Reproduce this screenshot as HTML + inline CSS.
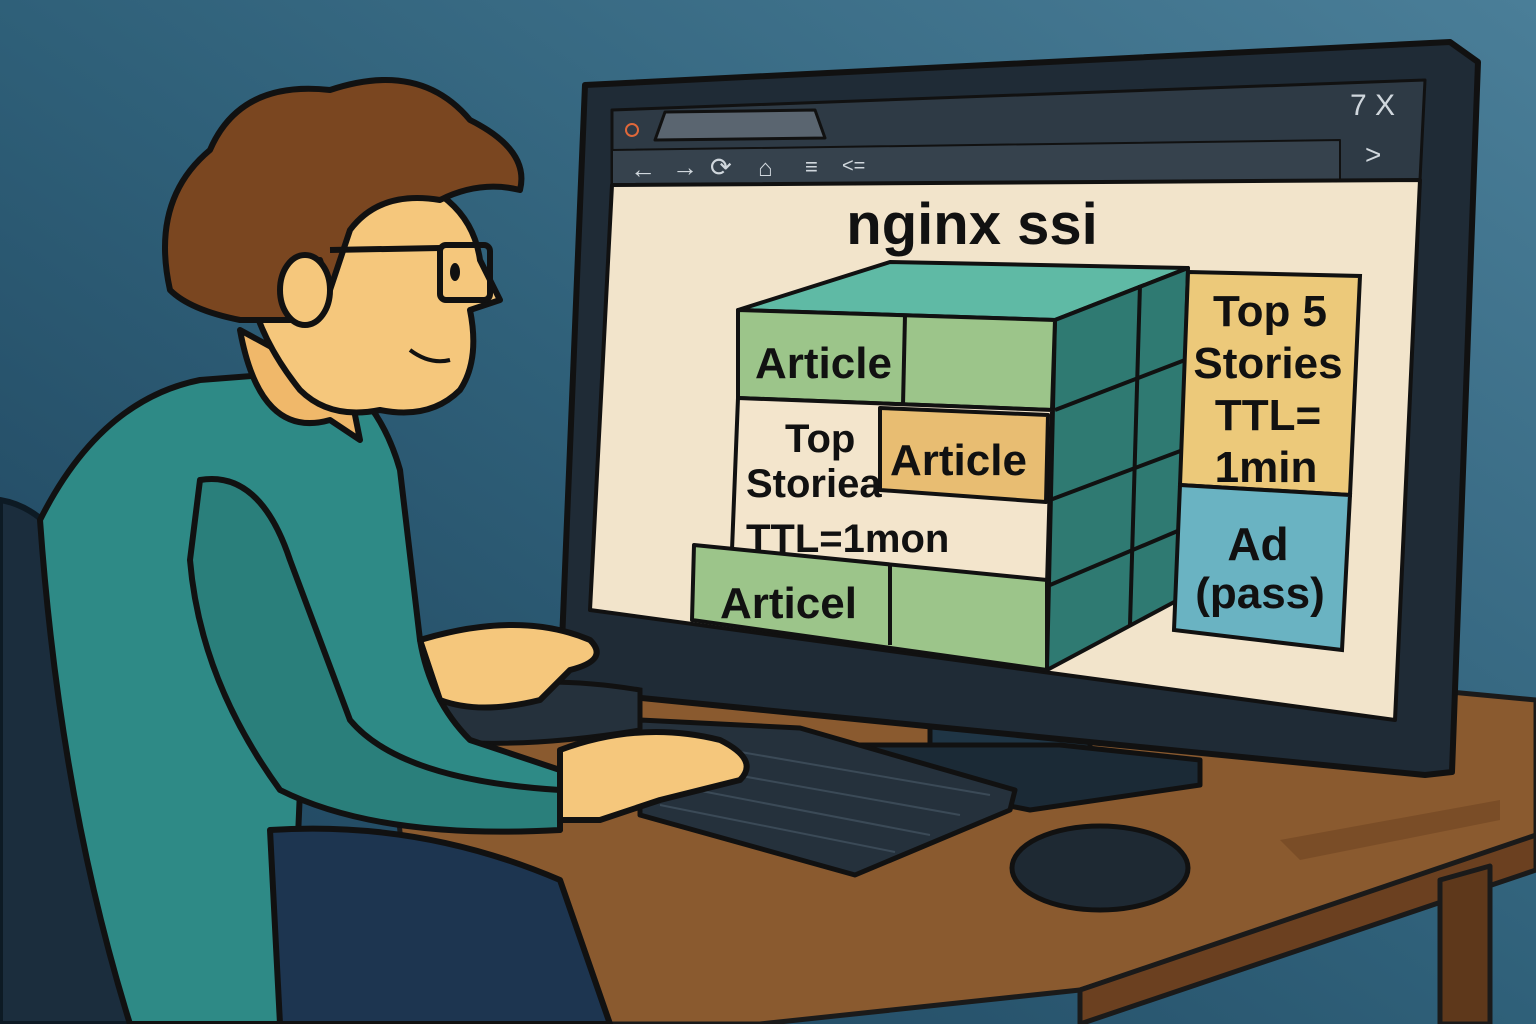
<!DOCTYPE html>
<html><head><meta charset="utf-8"><style>
html,body{margin:0;padding:0;width:1536px;height:1024px;overflow:hidden;background:#2d5b75}
svg{display:block}
text{font-family:"Liberation Sans",sans-serif;font-weight:bold;fill:#111}
</style></head><body>
<svg width="1536" height="1024" viewBox="0 0 1536 1024">
<defs>
<linearGradient id="bg" x1="1" y1="0" x2="0" y2="1">
<stop offset="0" stop-color="#4a7e98"/><stop offset="0.5" stop-color="#2f6079"/><stop offset="1" stop-color="#1c3f58"/>
</linearGradient>
</defs>
<rect width="1536" height="1024" fill="url(#bg)"/>

<g stroke="#1a1a1a" stroke-width="5" stroke-linejoin="round">
<polygon points="380,640 1000,650 1536,700 1536,840 1080,990 760,1024 420,1024" fill="#8a5a2f"/>
<polygon points="1080,990 1536,835 1536,870 1080,1024" fill="#6b4020"/>
<polygon points="1440,880 1490,866 1490,1024 1440,1024" fill="#5e381b"/>
<polygon points="1280,840 1500,800 1500,820 1300,860" fill="#7a4d27" stroke="none"/>
</g>

<g stroke="#111" stroke-width="5" stroke-linejoin="round">
<polygon points="930,690 1090,700 1090,755 930,750" fill="#1f3545"/>
<polygon points="830,745 1060,745 1200,760 1200,785 1030,810 830,770" fill="#1b2a36"/>
</g>

<g stroke="#111" stroke-width="6" stroke-linejoin="round">
<polygon points="585,85 1450,42 1478,62 1452,772 1425,775 560,690" fill="#1f2b36"/>
<polygon points="612,110 1425,80 1420,180 612,185" fill="#2e3a45" stroke-width="3"/>
<polygon points="655,140 665,112 815,110 825,138" fill="#5a6570" stroke-width="3"/>
<polygon points="612,150 1340,140 1340,180 612,185" fill="#36424d" stroke-width="2"/>
<polygon points="612,185 1420,180 1395,720 590,610" fill="#f2e4cb" stroke-width="4"/>
</g>
<circle cx="632" cy="130" r="6" fill="none" stroke="#e0683a" stroke-width="2"/>
<g>
<text x="630" y="178" font-size="26" style="fill:#d0d7dd;font-weight:normal">←</text>
<text x="672" y="176" font-size="26" style="fill:#d0d7dd;font-weight:normal">→</text>
<text x="710" y="176" font-size="26" style="fill:#d0d7dd;font-weight:normal">⟳</text>
<text x="758" y="176" font-size="24" style="fill:#d0d7dd;font-weight:normal">⌂</text>
<text x="805" y="174" font-size="22" style="fill:#d0d7dd;font-weight:normal">≡</text>
<text x="842" y="172" font-size="20" style="fill:#d0d7dd;font-weight:normal">&lt;=</text>
<text x="1365" y="164" font-size="28" style="fill:#d0d7dd;font-weight:normal">&gt;</text>
<text x="1350" y="115" font-size="30" style="fill:#d0d7dd;font-weight:normal">7 X</text>
</g>

<text x="972" y="244" font-size="58" text-anchor="middle">nginx ssi</text>
<g stroke="#111" stroke-width="4" stroke-linejoin="round">
<polygon points="738,310 890,262 1188,268 1055,320" fill="#5fbaa5"/>
<polygon points="1055,320 1188,268 1178,600 1047,670" fill="#2f7a72"/>
<polyline points="1055,410 1185,360" fill="none"/><polyline points="1050,500 1183,450" fill="none"/><polyline points="1050,585 1180,530" fill="none"/>
<polyline points="1140,285 1130,625" fill="none"/>
<polygon points="738,310 1055,320 1052,410 738,398" fill="#9cc58a"/>
<line x1="905" y1="315" x2="903" y2="405"/>
<polygon points="738,398 1052,410 1047,585 732,550" fill="#f3e5cc"/>
<polygon points="880,408 1048,415 1046,502 880,490" fill="#e8bd72"/>
<polygon points="694,545 1047,580 1047,670 692,620" fill="#9cc58a"/>
<line x1="890" y1="565" x2="890" y2="645"/>
</g>
<text x="755" y="378" font-size="44">Article</text>
<text x="785" y="452" font-size="40">Top</text>
<text x="746" y="497" font-size="40">Storiea</text>
<text x="746" y="552" font-size="40">TTL=1mon</text>
<text x="890" y="475" font-size="44">Article</text>
<text x="720" y="618" font-size="44">Articel</text>

<g stroke="#111" stroke-width="4">
<polygon points="1188,272 1360,276 1350,495 1180,485" fill="#ecc97a"/>
<polygon points="1180,485 1350,495 1342,650 1174,630" fill="#6ab3c2"/>
</g>
<text x="1270" y="326" font-size="44" text-anchor="middle">Top 5</text>
<text x="1268" y="378" font-size="44" text-anchor="middle">Stories</text>
<text x="1268" y="430" font-size="44" text-anchor="middle">TTL=</text>
<text x="1266" y="482" font-size="44" text-anchor="middle">1min</text>
<text x="1258" y="560" font-size="46" text-anchor="middle">Ad</text>
<text x="1260" y="608" font-size="44" text-anchor="middle">(pass)</text>

<g stroke="#111" stroke-width="5" stroke-linejoin="round">
<polygon points="640,720 800,728 1015,790 1010,810 855,875 640,815" fill="#25313c"/>
<g stroke="#3b4a57" stroke-width="2" fill="none">
<line x1="700" y1="745" x2="990" y2="795"/><line x1="680" y1="765" x2="960" y2="815"/>
<line x1="670" y1="785" x2="930" y2="835"/><line x1="660" y1="805" x2="895" y2="852"/>
</g>
</g>
<ellipse cx="1100" cy="868" rx="88" ry="42" fill="#1e2933" stroke="#111" stroke-width="5"/>
<path d="M420,700 Q520,670 640,690 L640,730 Q520,750 430,740 Z" fill="#25313c" stroke="#111" stroke-width="5"/>

<g stroke="#0d1a24" stroke-width="6" stroke-linejoin="round">
<path d="M0,500 Q60,510 90,600 L170,1024 L0,1024 Z" fill="#1b2d3d"/>
<path d="M170,910 L420,880 L430,920 L190,950 Z" fill="#1b2d3d"/>
</g>

<g stroke="#111" stroke-width="6" stroke-linejoin="round">
<path d="M40,520 Q100,400 200,380 L330,370 Q380,400 400,470 L420,640 Q430,700 470,740 L560,770 L560,830 L400,820 L300,790 L290,1024 L130,1024 Q60,800 40,520 Z" fill="#2e8a86"/>
<path d="M200,480 Q260,470 290,560 L350,720 Q400,780 560,790 L560,830 Q380,840 280,790 Q200,680 190,560 Z" fill="#2a7f7b"/>
<path d="M270,830 Q420,820 560,880 L610,1024 L280,1024 Z" fill="#1d3550"/>
<path d="M420,640 Q520,610 590,640 Q610,660 570,670 L540,700 Q480,715 440,700 Z" fill="#f5c77c"/>
<path d="M560,750 Q640,720 720,740 Q760,760 740,780 Q700,790 660,800 L600,820 L560,820 Z" fill="#f5c77c"/>
<path d="M240,330 Q260,440 330,420 L360,440 L350,390 Z" fill="#f0b86a"/>
<path d="M200,230 Q260,150 380,170 Q470,190 480,260 L500,300 L470,310 Q480,360 460,390 Q430,420 380,410 Q330,420 300,390 Q260,340 250,290 Z" fill="#f5c77c"/>
<path d="M170,290 Q150,200 210,150 Q240,80 330,90 Q420,60 470,120 Q530,150 520,190 Q480,180 440,200 Q380,190 350,230 L330,290 L320,260 Q280,260 290,320 L240,320 Q190,310 170,290 Z" fill="#7a4620"/>
<ellipse cx="305" cy="290" rx="25" ry="35" fill="#f5c77c"/>
</g>
<g stroke="#111" stroke-width="6" fill="none">
<line x1="330" y1="250" x2="440" y2="248"/>
<rect x="440" y="245" width="50" height="55" rx="6"/>
</g>
<ellipse cx="455" cy="272" rx="5" ry="9" fill="#111"/>
<path d="M410,350 Q430,365 450,360" stroke="#111" stroke-width="4" fill="none"/>
</svg>
</body></html>
